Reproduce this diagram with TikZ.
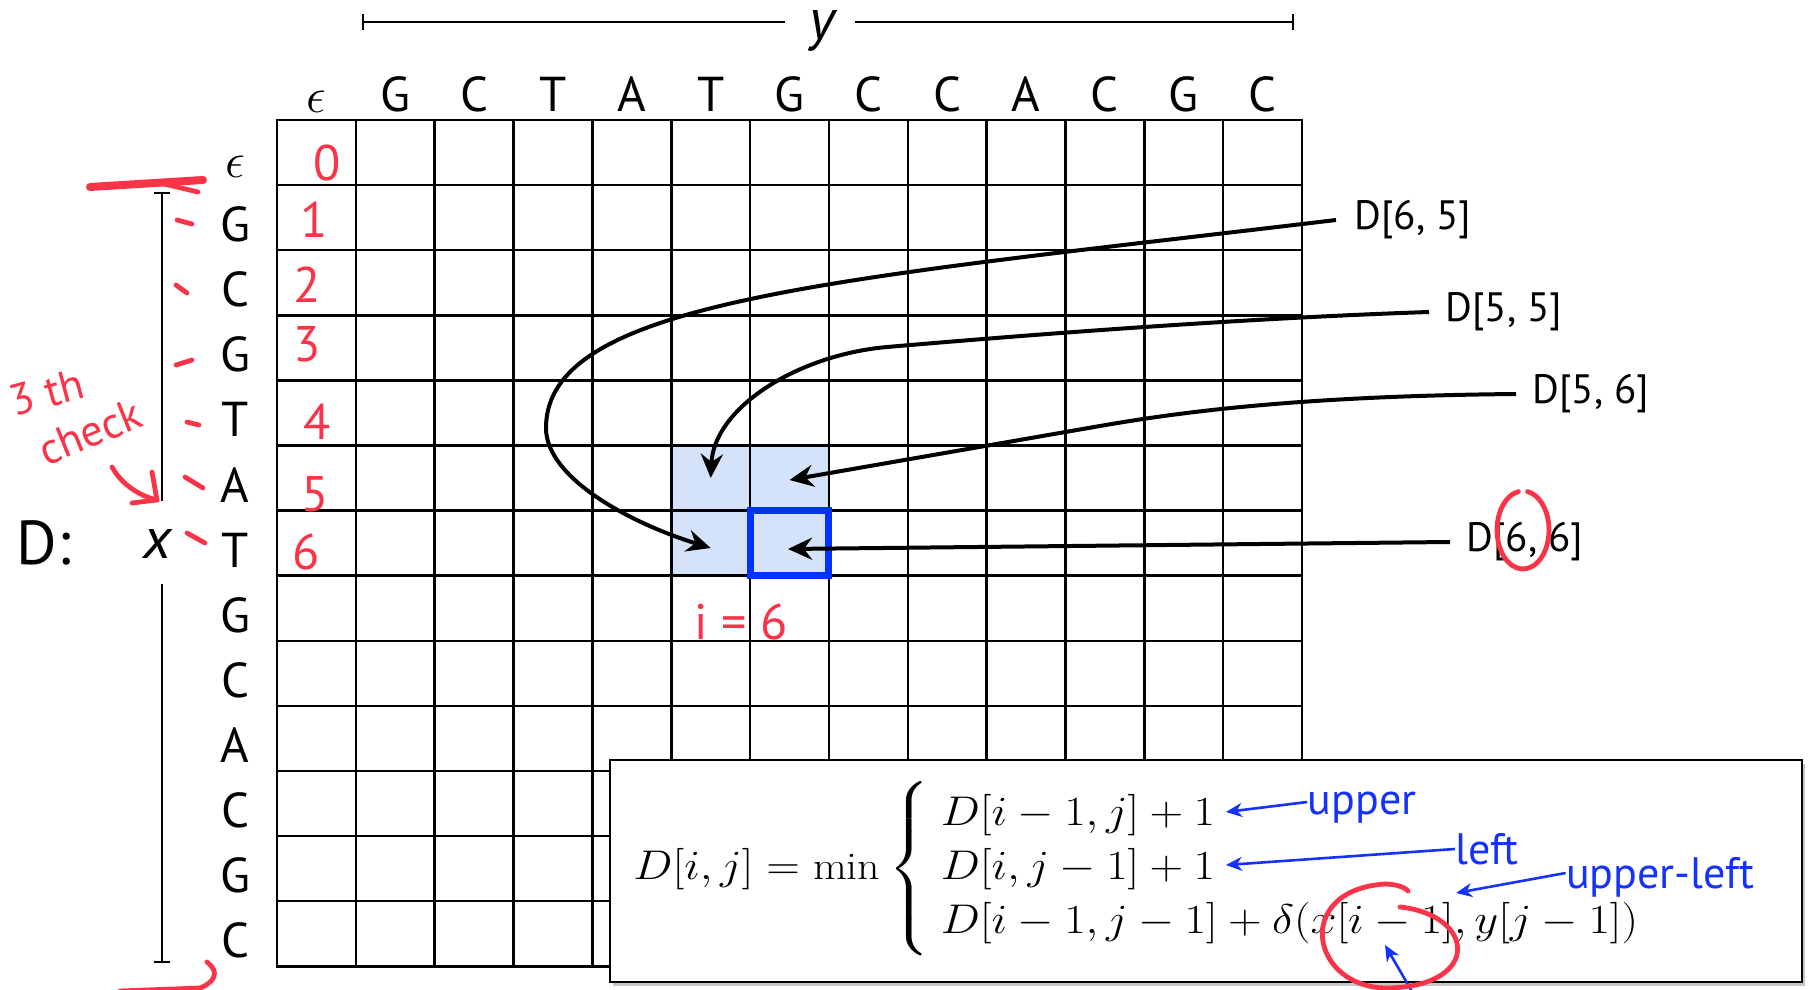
\documentclass[tikz,border=0pt]{standalone}
\usepackage{amsmath}
\usepackage{graphicx}
\usepackage{fontspec}
\setsansfont{PT Sans}
\usetikzlibrary{arrows.meta,positioning,shadows,calc}
\definecolor{cellblue}{RGB}{212,227,250}
\definecolor{boxblue}{RGB}{0,51,255}
\definecolor{labblue}{RGB}{20,50,250}
\definecolor{notered}{RGB}{250,52,72}

\begin{document}
\begin{tikzpicture}[
    x=0.5pt, y=-0.5pt,
    seqlabel/.style={font=\fontsize{24.5}{28}\selectfont\sffamily, anchor=base, inner sep=0pt},
    axislabel/.style={font=\fontsize{29}{34}\selectfont\sffamily\itshape, inner sep=0pt},
    cellref/.style={font=\fontsize{20.5}{24}\selectfont\sffamily, anchor=west, inner sep=0pt},
    gridline/.style={line width=1.25pt},
    bracket/.style={line width=1pt},
    arrow/.style={-{Stealth[length=12pt, width=11pt, inset=4pt]}, line width=2pt},
    bluearrow/.style={-{Stealth[length=8pt, width=7pt, inset=2.5pt]}, line width=1.3pt, labblue},
    bluelabel/.style={font=\fontsize{22}{26}\selectfont\sffamily, text=labblue, inner sep=0pt},
    redmark/.style={notered, line width=2.4pt, line cap=round, line join=round},
    rednum/.style={font=\fontsize{25}{30}\selectfont\sffamily, text=notered, inner sep=0pt}
]
\useasboundingbox (0,0) rectangle (1812,990);

% neighbour cells of D[6,6]
\fill[cellblue] (671.25,445.5) rectangle (828.95,575.7);

% the table
\foreach \i in {0,...,13} {
  \draw[gridline] ({277+\i*78.85},120) -- ({277+\i*78.85},966.3);
  \draw[gridline] (277,{120+\i*65.1}) -- (1302.05,{120+\i*65.1});
}
\draw[gridline] (277,120) rectangle (1302.05,966.3);
\node[draw=boxblue, line width=3.5pt, minimum width=39.4pt, minimum height=32.55pt, inner sep=0pt] (cur) at (789.5,543.15) {};

% sequence y along the top
\node[seqlabel, font=\fontsize{29}{34}\selectfont] (col0) at (316.4,113) {$\epsilon$};
\foreach \l [count=\i] in {G,C,T,A,T,G,C,C,A,C,G,C}
  \node[seqlabel] (col\i) at ({277+(\i+0.5)*78.85},112) {\l};

% sequence x down the side
\node[seqlabel, font=\fontsize{29}{34}\selectfont] (row0) at (235,177.5) {$\epsilon$};
\foreach \l [count=\i] in {G,C,G,T,A,T,G,C,A,C,G,C}
  \node[seqlabel] (row\i) at (235,{120+(\i+0.5)*65.1+24}) {\l};

\node[font=\fontsize{31}{36}\selectfont\sffamily] (dname) at (44,543) {D:};

% y bracket
\node[axislabel] (ylab) at (822,31) {y};
\coordinate (yl) at (362,22);
\coordinate (yr) at (1294,22);
\draw[bracket, {Bar[width=8pt]}-] (yl) -- ([xshift=-12pt]ylab.west |- yl);
\draw[bracket, -{Bar[width=8pt]}] ([xshift=10pt]ylab.east |- yr) -- (yr);

% x bracket
\node[axislabel] (xlab) at (158,543.5) {x};
\coordinate (xt) at (162,192);
\coordinate (xb) at (162,963);
\draw[bracket, {Bar[width=8pt]}-] (xt) -- ([yshift=14pt]xlab.north -| xt);
\draw[bracket, -{Bar[width=8pt]}] ([yshift=-13pt]xlab.south -| xb) -- (xb);

% the cells that D[6,6] looks at
\coordinate (c55) at (710.7,478);
\coordinate (c56) at (789.5,480);
\coordinate (c65) at (710.7,548);
\coordinate (c66) at (788,549);

\node[cellref] (d65) at (1354,220) {D[6, 5]};
\node[cellref] (d55) at (1445,312) {D[5, 5]};
\node[cellref] (d56) at (1532,394) {D[5, 6]};
\node[cellref] (d66) at (1466,542) {D[6, 6]};

\draw[arrow] ([xshift=-9pt]d65.west) .. controls (835,280) and (546,300) .. (546,428) .. controls (546,478) and (630,523) .. (c65);
\draw[arrow] ([xshift=-8pt]d55.west) .. controls (1250,318) and (1050,333) .. (887,347) .. controls (797,355) and (714,408) .. (c55);
\draw[arrow] ([xshift=-8pt]d56.west) .. controls (1300,396) and (1180,412) .. (1100,426) -- (c56);
\draw[arrow] ([xshift=-8pt]d66.west) -- (c66);

% recurrence
\node[draw, line width=1.2pt, fill=white, drop shadow={shadow xshift=1.5pt, shadow yshift=-2pt, opacity=0.45}, minimum width=596pt, minimum height=111pt, inner sep=0pt] (rulebox) at (1206,871) {};
\node[anchor=west, inner sep=0pt] (rule) at (633,869) {\fontsize{19.5}{27}\selectfont\scalebox{1.125}[1]{$D[i,j] = \min\left\{\begin{array}{l}
  D[i-1,j]+1\\
  D[i,j-1]+1\\
  D[i-1,j-1]+\delta(x[i-1],y[j-1])
\end{array}\right.$}};

\coordinate (uptip) at (1226,812);
\coordinate (lefttip) at (1226,865);
\coordinate (ultip) at (1456,893);
\coordinate (btail) at (1414,995);
\coordinate (btip) at (1385,945);

\node[bluelabel] (upper) at (1362,808) {upper};
\node[bluelabel] (left) at (1487,849) {left};
\node[bluelabel] (ul) at (1660,877) {upper-left};

\draw[bluearrow] ([yshift=3pt]upper.west) -- (uptip);
\draw[bluearrow] (left.west) -- (lefttip);
\draw[bluearrow] ([yshift=2pt]ul.west) -- (ultip);
\draw[bluearrow] (btail) -- (btip);

% red handwriting
\node[rednum] (n0) at (327,163) {0};
\node[rednum] (n1) at (314,220) {1};
\node[rednum] (n2) at (307,285) {2};
\node[rednum] (n3) at (307,344) {3};
\node[rednum] (n4) at (317,422) {4};
\node[rednum] (n5) at (315,494) {5};
\node[rednum] (n6) at (306,552) {6};
\node[rednum] (iis) at (741,622) {i = 6};

\node[rednum, font=\fontsize{22}{26}\selectfont\sffamily, rotate=15] (note1) at (47,392) {3 th};
\node[rednum, font=\fontsize{22}{26}\selectfont\sffamily, rotate=22] (note2) at (90,432) {check};

\draw[redmark] (112,467) .. controls (122,485) and (140,496) .. (157,500);
\draw[redmark] (152,472) -- (157,500) -- (132,503);

\draw[redmark] (177,220) -- (192,224);
\draw[redmark] (176,285) -- (187,293);
\draw[redmark] (176,365) -- (192,360);
\draw[redmark] (187,422) -- (199,425);
\draw[redmark] (185,477) -- (203,488);
\draw[redmark] (187,533) -- (205,543);

\draw[redmark, line width=4pt] (90,187) -- (203,180);
\draw[redmark] (160,183) -- (198,192);
\draw[redmark] (120,991) -- (200,988) .. controls (215,982) and (220,972) .. (207,962);

\draw[redmark] (1523,530) ++(100:13pt and 19.5pt) arc[start angle=100, end angle=440, x radius=13pt, y radius=19.5pt];
\draw[redmark] (1400,907) .. controls (1475,915) and (1482,985) .. (1390,988) .. controls (1310,990) and (1292,890) .. (1385,884) .. controls (1395,884) and (1405,887) .. (1408,891);

\end{tikzpicture}
\end{document}
